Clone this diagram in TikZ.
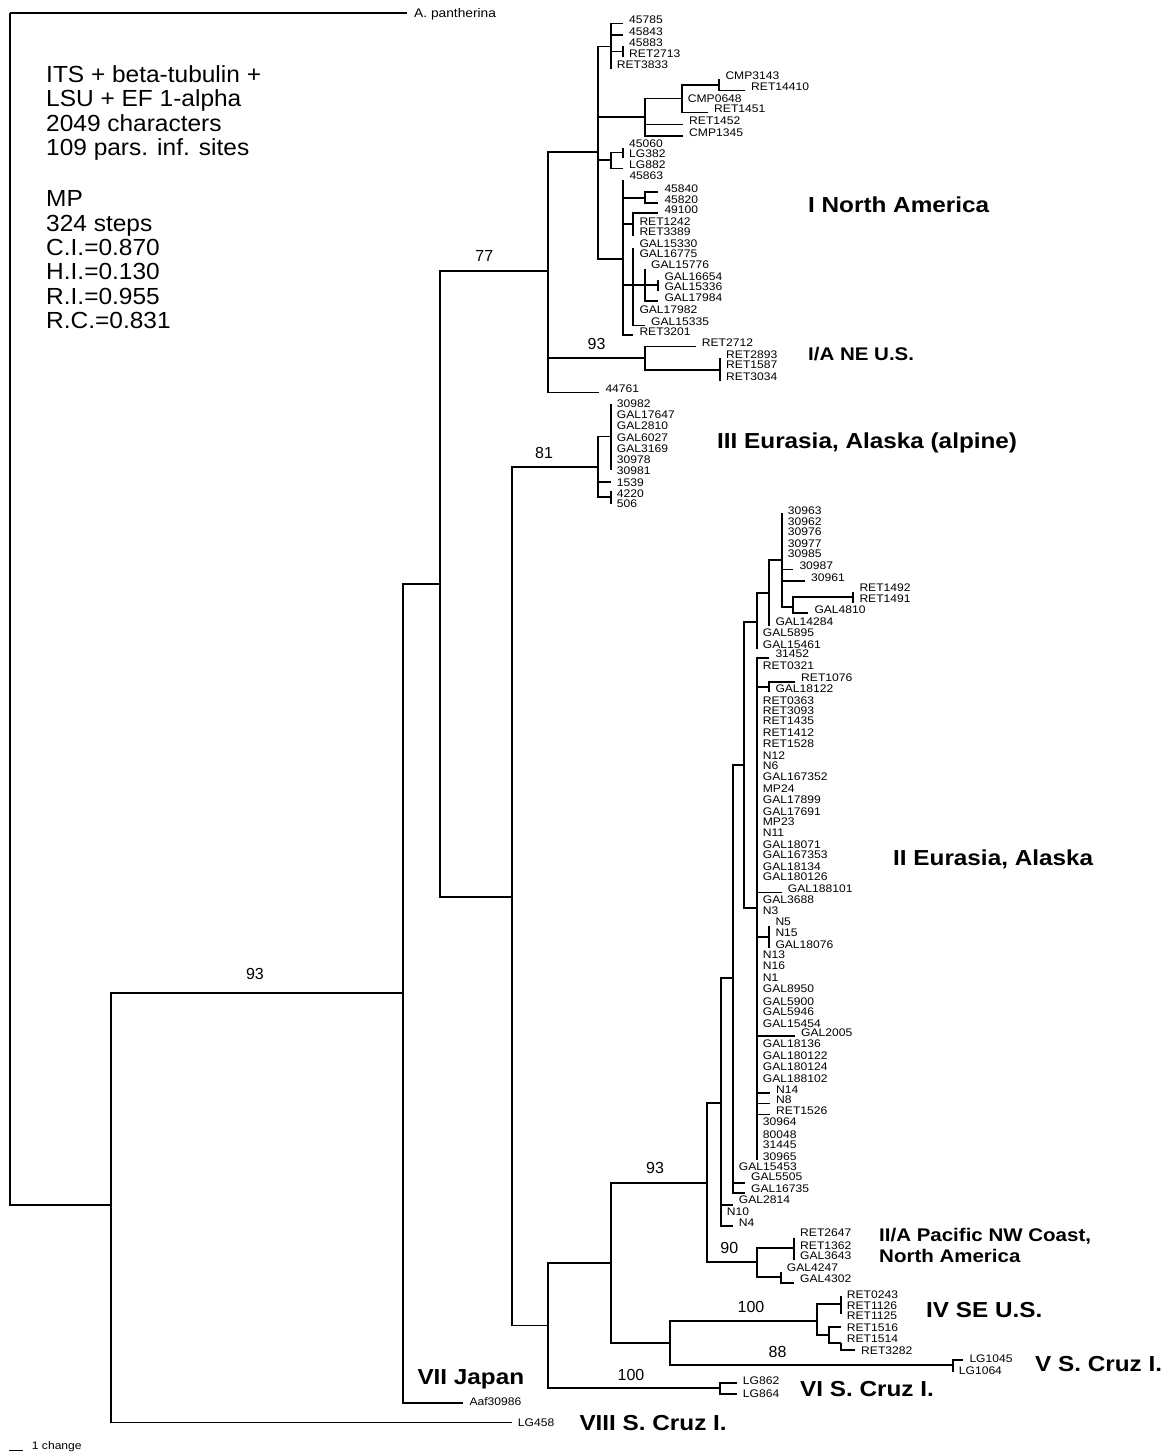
\documentclass[tikz,border=0pt]{standalone}
\usepackage{fontspec}
\usetikzlibrary{calc}
\newfontfamily\tipfont{Liberation Sans}[FakeStretch=1.1]
\newfontfamily\infofont{Liberation Sans}[FakeStretch=1.05]
\newfontfamily\bsfont{Liberation Sans}
\newfontfamily\cladefont{Liberation Sans}[FakeStretch=1.12]
\tikzset{
  br/.style={line width=1.8pt},
  tiplab/.style={anchor=base west, inner sep=0pt, font=\tipfont\fontsize{11}{13}\selectfont},
  bs/.style={inner sep=0pt, font=\bsfont\fontsize{16}{18}\selectfont},
  clade/.style={anchor=base west, inner sep=0pt, font=\cladefont\bfseries\fontsize{21.7}{24}\selectfont},
  smallclade/.style={anchor=base west, inner sep=0pt, font=\cladefont\bfseries\fontsize{18.3}{20}\selectfont},
  info/.style={anchor=base west, inner sep=0pt, font=\infofont\fontsize{23.3}{24.4}\selectfont}
}
\newcommand\leaf[6][0]{%
  \coordinate (#2) at (#4,#5);
  \draw[br] (#3) |- (#2);
  \node[tiplab] (l#2) at ($(#2)+(6,#1)$) {#6};}
\begin{document}
\begin{tikzpicture}[x=1pt,y=-1pt]
\useasboundingbox (0,0) rectangle (1168,1452);
\fill[white] (0,0) rectangle (1168,1452);
% ---------- internal nodes
\coordinate (root) at (10,12.7);
\coordinate (N93) at (110.7,1205);
\coordinate (NVII) at (402.7,993.3);
\coordinate (N440) at (440,584);
\coordinate (NI) at (548.3,271);
\coordinate (N512) at (511.7,897);
\coordinate (NIa) at (598.3,152.3);
\coordinate (Na1) at (610.7,46.5);
\coordinate (Na2) at (623,51.5);
\coordinate (NCMP) at (645,116.7);
\coordinate (Nc1) at (681.7,98.5);
\coordinate (Nc2) at (719.3,85);
\coordinate (Nlg) at (610.7,160);
\coordinate (Nlg2) at (623,152.5);
\coordinate (N623) at (623.3,259.3);
\coordinate (N645a) at (645,197.7);
\coordinate (N633a) at (633.3,224.3);
\coordinate (N633b) at (633.3,285.3);
\coordinate (N645b) at (645,285.3);
\coordinate (N658) at (658.3,285.3);
\coordinate (NIA) at (645,358.3);
\coordinate (NIA2) at (720,370);
\coordinate (NIII) at (598.3,466.7);
\coordinate (NIII2) at (610.7,436.5);
\coordinate (NIII3) at (610.7,497);
\coordinate (N548) at (548.3,1325.5);
\coordinate (NII93) at (610.7,1262.7);
\coordinate (NIIc) at (706.7,1182.7);
\coordinate (N720) at (720.7,1102.7);
\coordinate (N732) at (732.7,978.3);
\coordinate (N744) at (744,765);
\coordinate (N757a) at (756.7,621.7);
\coordinate (N769a) at (769.3,593.3);
\coordinate (N782) at (781.7,560);
\coordinate (N793) at (793.3,606.7);
\coordinate (N853) at (853.3,597);
\coordinate (N756b) at (756.7,908);
\coordinate (N769b) at (769.3,687);
\coordinate (N769c) at (769.3,937.3);
\coordinate (NIIA) at (756.7,1261.7);
\coordinate (NIIA2) at (794,1248.3);
\coordinate (NIIA3) at (780.7,1276.7);
\coordinate (NIV) at (670,1342.7);
\coordinate (NIV2) at (816.7,1320.7);
\coordinate (NIV3) at (840.7,1304);
\coordinate (NIV4) at (829.3,1335);
\coordinate (NIV5) at (840.7,1342.7);
\coordinate (NV) at (952.7,1365);
\coordinate (NVI) at (720,1388.3);
% ---------- internal edges
\draw[br] (root) |- (N93);
\draw[br] (N93) |- (NVII);
\draw[br] (NVII) |- (N440);
\draw[br] (N440) |- (NI);
\draw[br] (N440) |- (N512);
\draw[br] (N512) |- (NIII);
\draw[br] (N512) |- (N548);
\draw[br] (NI) |- (NIa);
\draw[br] (NI) |- (NIA);
\draw[br] (NIa) |- (Na1);
\draw[br] (Na1) |- (Na2);
\draw[br] (NIa) |- (NCMP);
\draw[br] (NCMP) |- (Nc1);
\draw[br] (Nc1) |- (Nc2);
\draw[br] (NIa) |- (Nlg);
\draw[br] (Nlg) |- (Nlg2);
\draw[br] (NIa) |- (N623);
\draw[br] (N623) |- (N645a);
\draw[br] (N623) |- (N633a);
\draw[br] (N623) |- (N633b);
\draw[br] (N633b) |- (N645b);
\draw[br] (N645b) |- (N658);
\draw[br] (NIA) |- (NIA2);
\draw[br] (NIII) |- (NIII2);
\draw[br] (NIII) |- (NIII3);
\draw[br] (N548) |- (NII93);
\draw[br] (N548) |- (NVI);
\draw[br] (NII93) |- (NIIc);
\draw[br] (NII93) |- (NIV);
\draw[br] (NIIc) |- (N720);
\draw[br] (NIIc) |- (NIIA);
\draw[br] (N720) |- (N732);
\draw[br] (N732) |- (N744);
\draw[br] (N744) |- (N757a);
\draw[br] (N744) |- (N756b);
\draw[br] (N757a) |- (N769a);
\draw[br] (N769a) |- (N782);
\draw[br] (N782) |- (N793);
\draw[br] (N793) |- (N853);
\draw[br] (N756b) |- (N769b);
\draw[br] (N756b) |- (N769c);
\draw[br] (NIIA) |- (NIIA2);
\draw[br] (NIIA) |- (NIIA3);
\draw[br] (NIV) |- (NIV2);
\draw[br] (NIV) |- (NV);
\draw[br] (NIV2) |- (NIV3);
\draw[br] (NIV2) |- (NIV4);
\draw[br] (NIV4) |- (NIV5);
% ---------- leaves
\coordinate (tApan) at (407,12.7);
\draw[br] (root) |- (tApan);
\node[tiplab, font=\tipfont\fontsize{12.5}{14}\selectfont] (ltApan) at ($(tApan)+(7,4.5)$) {A. pantherina};
% clade I
\leaf{t45785}{Na1}{623}{23.5}{45785}
\leaf{t45843}{Na1}{623}{35}{45843}
\leaf{t45883}{Na2}{623}{46}{45883}
\leaf{tRET2713}{Na2}{623}{57}{RET2713}
\leaf{tRET3833}{Na1}{610.7}{68.5}{RET3833}
\leaf{tCMP3143}{Nc2}{719.3}{79}{CMP3143}
\leaf{tRET14410}{Nc2}{745}{90.5}{RET14410}
\leaf{tCMP0648}{Nc1}{681.7}{102.5}{CMP0648}
\leaf{tRET1451}{Nc1}{708}{112.5}{RET1451}
\leaf{tRET1452}{NCMP}{683}{124.5}{RET1452}
\leaf{tCMP1345}{NCMP}{683}{136}{CMP1345}
\leaf{t45060}{Nlg2}{623}{147.5}{45060}
\leaf{tLG382}{Nlg2}{623}{157.5}{LG382}
\leaf{tLG882}{Nlg}{623}{168.5}{LG882}
\leaf{t45863}{N623}{623.3}{179.5}{45863}
\leaf{t45840}{N645a}{658.3}{192.3}{45840}
\leaf{t45820}{N645a}{658.3}{203}{45820}
\leaf{t49100}{N633a}{658.3}{213}{49100}
\leaf{tRET1242}{N633a}{633.3}{225.5}{RET1242}
\leaf{tRET3389}{N633a}{633.3}{235.5}{RET3389}
\leaf{tGAL15330}{N633b}{633.3}{247.5}{GAL15330}
\leaf{tGAL16775}{N633b}{633.3}{257.5}{GAL16775}
\leaf{tGAL15776}{N645b}{645}{268.5}{GAL15776}
\leaf{tGAL16654}{N658}{658.3}{280}{GAL16654}
\leaf{tGAL15336}{N658}{658.3}{290.5}{GAL15336}
\leaf{tGAL17984}{N645b}{658.3}{301}{GAL17984}
\leaf{tGAL17982}{N633b}{633.3}{313.5}{GAL17982}
\leaf{tGAL15335}{N633b}{645}{325.5}{GAL15335}
\leaf{tRET3201}{N623}{633.3}{335}{RET3201}
\leaf{tRET2712}{NIA}{695.7}{346.5}{RET2712}
\leaf{tRET2893}{NIA2}{720}{358.3}{RET2893}
\leaf{tRET1587}{NIA2}{720}{368.5}{RET1587}
\leaf{tRET3034}{NIA2}{720}{380.5}{RET3034}
\leaf{t44761}{NI}{599.3}{392.5}{44761}
% clade III
\foreach \yy/\lab in {404.3/30982,415/GAL17647,426/GAL2810,438.3/GAL6027,449.3/GAL3169,460.5/30978}
  {\leaf[3]{t\lab}{NIII2}{610.7}{\yy}{\lab}}
\leaf[4]{t30981}{NIII2}{610.7}{470}{30981}
\leaf[4]{t1539}{NIII}{610.7}{482}{1539}
\leaf[6]{t4220}{NIII3}{610.7}{491}{4220}
\leaf[3.5]{t506}{NIII3}{610.7}{504}{506}
% clade II
\foreach \yy/\lab in {513/30963,524.7/30962,534.7/30976,546.3/30977,556.3/30985}
  {\leaf[1]{t\lab}{N782}{781.7}{\yy}{\lab}}
\leaf{t30987}{N782}{793.3}{569.5}{30987}
\leaf{t30961}{N782}{805}{581}{30961}
\leaf{tRET1492}{N853}{853.3}{591.5}{RET1492}
\leaf{tRET1491}{N853}{853.3}{602.5}{RET1491}
\leaf{tGAL4810}{N793}{808.3}{613.3}{GAL4810}
\leaf{tGAL14284}{N769a}{769.3}{625.5}{GAL14284}
\leaf{tGAL5895}{N757a}{756.7}{636.3}{GAL5895}
\leaf{tGAL15461}{N757a}{756.7}{648.5}{GAL15461}
\leaf{t31452}{N756b}{769.3}{657.7}{31452}
\leaf{tRET0321}{N756b}{756.7}{669}{RET0321}
\leaf{tRET1076}{N769b}{795}{681.7}{RET1076}
\leaf{tGAL18122}{N769b}{769.3}{692.3}{GAL18122}
\foreach \yy/\lab in {704/RET0363,714.7/RET3093,724.7/RET1435,736.3/RET1412,747.3/RET1528,759/N12,769.7/N6,780/GAL167352,792.3/MP24,803.3/GAL17899,815/GAL17691,825/MP23,836.7/N11,848/GAL18071,858.3/GAL167353,870/GAL18134,880.7/GAL180126,903.3/GAL3688,914/N3,958.3/N13,969.7/N16,981.7/N1,992.3/GAL8950,1005/GAL5900,1015.7/GAL5946,1027.3/GAL15454,1047.3/GAL18136,1059/GAL180122,1070/GAL180124,1082.3/GAL188102,1125.7/30964,1138/80048,1148.3/31445,1160/30965}
  {\leaf{t\lab}{N756b}{756.7}{\yy}{\lab}}
\leaf{tGAL188101}{N756b}{781.7}{892.5}{GAL188101}
\leaf{tN5}{N769c}{769.3}{925.7}{N5}
\leaf{tN15}{N769c}{769.3}{936.3}{N15}
\leaf{tGAL18076}{N769c}{769.3}{948.3}{GAL18076}
\leaf{tGAL2005}{N756b}{795}{1036}{GAL2005}
\leaf{tN14}{N756b}{770}{1093}{N14}
\leaf{tN8}{N756b}{770}{1103.5}{N8}
\leaf{tRET1526}{N756b}{770}{1114.5}{RET1526}
\leaf{tGAL15453}{N732}{732.7}{1170}{GAL15453}
\leaf[-2]{tGAL5505}{N732}{745}{1182.7}{GAL5505}
\leaf{tGAL16735}{N732}{745}{1192.7}{GAL16735}
\leaf[-1.5]{tGAL2814}{N720}{732.7}{1205}{GAL2814}
\leaf{tN10}{N720}{720.7}{1215}{N10}
\leaf{tN4}{N720}{732.7}{1226}{N4}
\leaf[-1.2]{tRET2647}{NIIA2}{794}{1237.5}{RET2647}
\leaf{tRET1362}{NIIA2}{794}{1249.5}{RET1362}
\leaf{tGAL3643}{NIIA2}{794}{1259.7}{GAL3643}
\leaf{tGAL4247}{NIIA3}{780.7}{1271.7}{GAL4247}
\leaf{tGAL4302}{NIIA3}{794}{1282.7}{GAL4302}
% clades IV-VIII
\leaf[2]{tRET0243}{NIV3}{840.7}{1296}{RET0243}
\leaf[4]{tRET1126}{NIV3}{840.7}{1305.5}{RET1126}
\leaf[5.5]{tRET1125}{NIV3}{840.7}{1313.5}{RET1125}
\leaf[4]{tRET1516}{NIV4}{840.7}{1327.3}{RET1516}
\leaf{tRET1514}{NIV5}{840.7}{1342.7}{RET1514}
\leaf[4]{tRET3282}{NIV5}{855}{1350}{RET3282}
\leaf[2.3]{tLG1045}{NV}{963.3}{1360}{LG1045}
\leaf[2.3]{tLG1064}{NV}{952.7}{1371.7}{LG1064}
\leaf[1.3]{tLG862}{NVI}{736.7}{1382.7}{LG862}
\leaf[3.3]{tLG864}{NVI}{736.7}{1394}{LG864}
\leaf[2.4]{tAaf}{NVII}{463.3}{1403.3}{Aaf30986}
\leaf[4.2]{tLG458}{N93}{511.7}{1422.5}{LG458}
% ---------- bootstrap values
\node[bs] (b77) at (484.3,256) {77};
\node[bs] (b93a) at (596.5,343.5) {93};
\node[bs] (b81) at (544,453.3) {81};
\node[bs] (b93b) at (255,974) {93};
\node[bs] (b93c) at (655,1168) {93};
\node[bs] (b90) at (729.3,1248.3) {90};
\node[bs] (b100a) at (751,1307.3) {100};
\node[bs] (b88) at (777.5,1351.7) {88};
\node[bs] (b100b) at (631,1375) {100};
% ---------- clade labels
\node[clade] (cI) at (808,212.8) {I North America};
\node[smallclade] (cIA) at (808,360.6) {I/A NE U.S.};
\node[clade] (cIII) at (717,448.3) {III Eurasia, Alaska (alpine)};
\node[clade] (cII) at (893,865.8) {II Eurasia, Alaska};
\node[smallclade] (cIIA1) at (879,1241.6) {II/A Pacific NW Coast,};
\node[smallclade] (cIIA2) at (879,1262.6) {North America};
\node[clade] (cIV) at (926,1317.8) {IV SE U.S.};
\node[clade] (cV) at (1035,1371.1) {V S. Cruz I.};
\node[clade] (cVI) at (800,1396.5) {VI S. Cruz I.};
\node[clade] (cVII) at (417.3,1384.5) {VII Japan};
\node[clade] (cVIII) at (579.3,1430.5) {VIII S. Cruz I.};
% ---------- info text
\node[info] (i1) at (46,82.3) {ITS + beta-tubulin +};
\node[info] (i2) at (46,106.7) {LSU + EF 1-alpha};
\node[info] (i3) at (46,131.1) {2049 characters};
\node[info] (i4) at (46,155.5) {109 pars. inf. sites};
\node[info] (i5) at (46,206.6) {MP};
\node[info] (i6) at (46,231) {324 steps};
\node[info] (i7) at (46,255.4) {C.I.=0.870};
\node[info] (i8) at (46,279.8) {H.I.=0.130};
\node[info] (i9) at (46,304.2) {R.I.=0.955};
\node[info] (i10) at (46,328.6) {R.C.=0.831};
% ---------- scale bar
\coordinate (sb1) at (9.3,1450.5);
\coordinate (sb2) at (23.3,1450.5);
\draw[line width=0.8pt] (sb1) -- (sb2);
\node[tiplab] (sbl) at (31.7,1449) {1 change};
\end{tikzpicture}
\end{document}
